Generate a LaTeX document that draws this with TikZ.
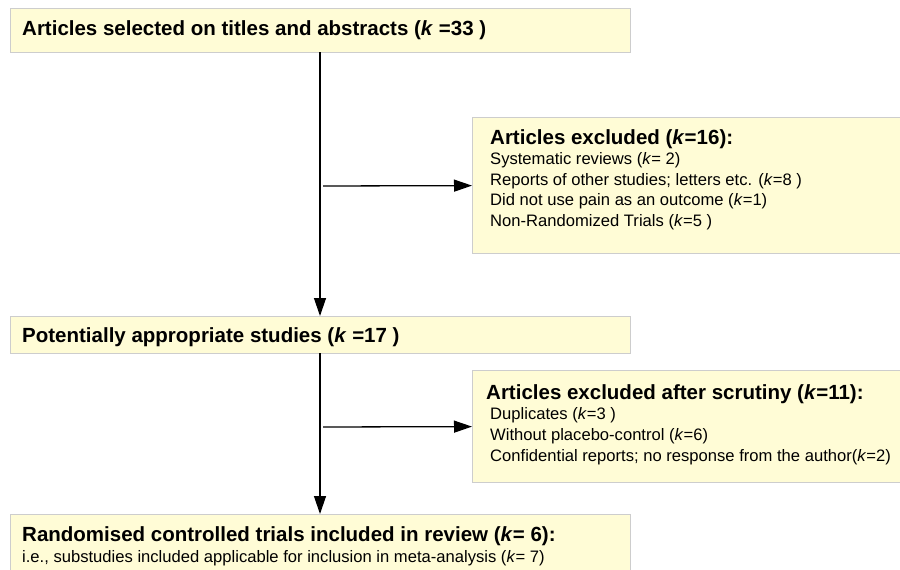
\documentclass[tikz,border=0pt]{standalone}
\usepackage{fontspec}
\setmainfont{Liberation Sans}
\usetikzlibrary{arrows.meta}
\definecolor{boxfill}{RGB}{255,252,214}
\definecolor{boxline}{RGB}{205,205,205}
\begin{document}
\begin{tikzpicture}[x=1pt,y=-1pt,
  box/.style={draw=boxline, fill=boxfill, line width=1.2pt, rectangle, inner sep=0pt, anchor=north west},
  head/.style={anchor=base west, inner sep=0pt, font=\fontsize{20.5}{24}\selectfont\bfseries},
  body/.style={anchor=base west, inner sep=0pt, font=\fontsize{16.6}{20}\selectfont},
  conn/.style={line width=1.3pt, -{Triangle[length=18pt,width=12pt]}}]
\clip (0,0) rectangle (900,570);
\fill[white] (0,0) rectangle (900,570);
% boxes
\node[box, minimum width=620pt, minimum height=44pt] (b1) at (10,8) {};
\node[box, minimum width=440pt, minimum height=136pt] (b2) at (472,117) {};
\node[box, minimum width=620pt, minimum height=37pt] (b3) at (10,316) {};
\node[box, minimum width=440pt, minimum height=112pt] (b4) at (472,370) {};
\node[box, minimum width=620pt, minimum height=70pt] (b5) at (10,514) {};
% texts
\node[head] (t1) at (22,35) {Articles selected on titles and abstracts (\textit{k} =33 )};
\node[head] (t2) at (490,144) {Articles excluded (\textit{k}=16):};
\node[body] (t2a) at (490,164) {Systematic reviews (\textit{k}= 2)};
\node[body] (t2b) at (490,185) {Reports of other studies; letters etc. (\textit{k}=8 )};
\node[body] (t2c) at (490,205.5) {Did not use pain as an outcome (\textit{k}=1)};
\node[body] (t2d) at (490,226) {Non-Randomized Trials (\textit{k}=5 )};
\node[head] (t3) at (22,342) {Potentially appropriate studies (\textit{k} =17 )};
\node[head] (t4) at (486,399) {Articles excluded after scrutiny (\textit{k}=11):};
\node[body] (t4a) at (490,419) {Duplicates (\textit{k}=3 )};
\node[body] (t4b) at (490,440) {Without placebo-control (\textit{k}=6)};
\node[body] (t4c) at (490,461) {Confidential reports; no response from the author(\textit{k}=2)};
\node[head] (t5) at (22,541) {Randomised controlled trials included in review (\textit{k}= 6):};
\node[body] (t5a) at (22,562) {i.e., substudies included applicable for inclusion in meta-analysis (\textit{k}= 7)};
% connectors
\coordinate (s1) at (320,52);
\coordinate (s3) at (320,353);
\coordinate (h1) at (323,186);
\coordinate (h2) at (323,427);
\draw[conn] (s1) -- (s1 |- b3.north);
\draw[conn] (h1) -- (b2.west);
\draw[conn] (s3) -- (s3 |- b5.north);
\draw[conn] (h2) -- (b4.west);
\end{tikzpicture}
\end{document}
